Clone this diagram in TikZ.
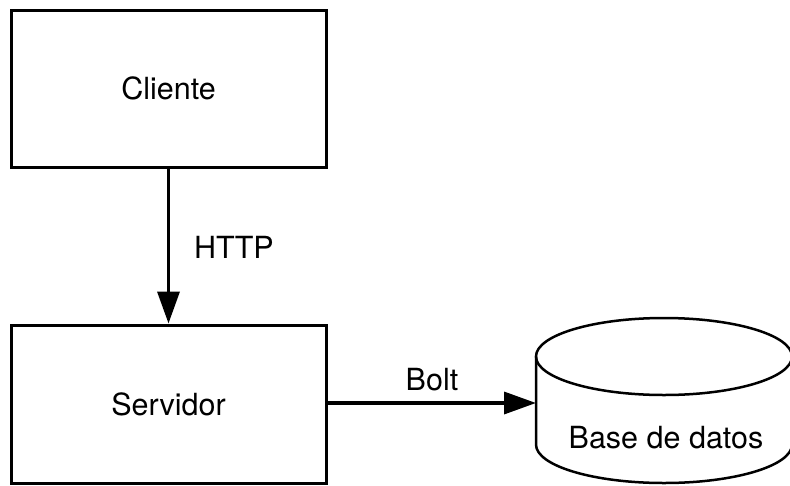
\documentclass[tikz,border=0pt]{standalone}
\usepackage{fontspec}
\setmainfont{TeX Gyre Heros}
\usetikzlibrary{arrows.meta}
\begin{document}
\begin{tikzpicture}[x=1pt,y=-1pt,
  box/.style={draw=black,line width=3pt,rectangle,minimum width=315pt,minimum height=157pt,inner sep=0pt,
    font=\fontsize{30.5}{36}\selectfont},
  lbl/.style={font=\fontsize{30.5}{36}\selectfont,inner sep=0pt},
  conn/.style={line width=3.5pt,-{Triangle[length=32pt,width=22pt]}},
  cyl/.style={draw=black,line width=2.5pt}]
\useasboundingbox (0,0) rectangle (790,485);
\clip (0,0) rectangle (790,485);
\node[box] (cli) at (168.5,88.5) {Cliente};
\node[box,minimum height=158pt] (srv) at (168.5,404) {Servidor};
% cylinder
\draw[cyl,fill=white] (536,356.5) -- (536,444.5) arc[start angle=180,end angle=360,x radius=128,y radius=-38.5] -- (792,356.5);
\draw[cyl] (664,356.5) ellipse[x radius=128,y radius=38.5];
\node[minimum width=256pt,minimum height=165pt,inner sep=0pt] (db) at (664,400.5) {};
\node[lbl] (dblabel) at (666,438) {Base de datos};
\coordinate (srvout) at (326,403);
\coordinate (dbin) at (536,403);
\draw[conn] (cli.south) -- (srv.north);
\draw[conn] (srvout) -- (dbin);
\node[lbl] (http) at (234,247) {HTTP};
\node[lbl] (bolt) at (432,380) {Bolt};
\end{tikzpicture}
\end{document}
